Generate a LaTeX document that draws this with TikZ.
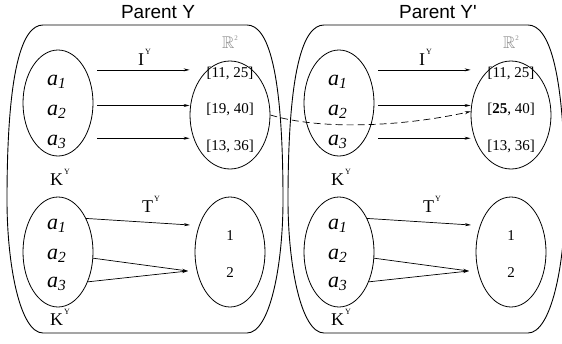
\documentclass[tikz,border=0pt]{standalone}
\usepackage{amssymb}
\usepackage{fontspec}
\setmainfont{Liberation Serif}
\setsansfont{Liberation Sans}
\usetikzlibrary{shapes.geometric, arrows.meta}
\definecolor{setgray}{gray}{0.55}
\newcommand{\tY}{\kern1pt\raisebox{11pt}{\fontsize{8}{8}\selectfont Y}}
\newcommand{\Rsq}{\textcolor{setgray}{$\mathbb{R}$\raisebox{8pt}{\fontsize{7}{7}\selectfont 2}}}

\begin{document}
\begin{tikzpicture}[x=1pt, y=-1pt,
  cont/.style={line width=0.9pt},
  set/.style={draw, ellipse, line width=0.8pt, inner sep=0pt},
  arr/.style={line width=0.7pt, -{Stealth[length=6pt,width=3pt]}},
  elem/.style={anchor=base west, inner sep=0pt, font=\fontsize{22}{22}\selectfont\itshape},
  val/.style={anchor=base, inner sep=0pt, font=\fontsize{15}{15}\selectfont},
  map/.style={anchor=base west, inner sep=0pt, font=\fontsize{18}{18}\selectfont},
  head/.style={anchor=base, inner sep=0pt, font=\sffamily\fontsize{19}{19}\selectfont}]
\useasboundingbox (0,0) rectangle (562,343);
% parent Y
\draw[cont] (43,25) -- (247,25) .. controls (268,25) and (283,70) .. (283,200)
  .. controls (283,265) and (270,333) .. (247,333) -- (43,333)
  .. controls (20,333) and (7,265) .. (7,200) .. controls (7,70) and (22,25) .. (43,25) -- cycle;
\node[head] (Lt) at (158,18) {Parent Y};
\node[set, minimum width=70pt, minimum height=106pt] (LA) at (58,103) {};
\node[set, minimum width=80pt, minimum height=108pt] (LB) at (230,115) {};
\node[set, minimum width=70pt, minimum height=110pt] (LC) at (58,252) {};
\node[set, minimum width=70pt, minimum height=110pt] (LD) at (230,252) {};
\node[elem] (La1) at (47,85) {a\textsubscript{\itshape 1}};
\node[elem] (La2) at (47,115) {a\textsubscript{\itshape 2}};
\node[elem] (La3) at (47,145) {a\textsubscript{\itshape 3}};
\node[val] (Lv1) at (230,77) {[11, 25]};
\node[val] (Lv2) at (230,113) {[19, 40]};
\node[val] (Lv3) at (230,150) {[13, 36]};
\node[val, anchor=base west, font=\fontsize{17}{17}\selectfont] (LR) at (222,48) {\Rsq};
\node[map] (LI) at (138,65) {I\tY};
\node[map] (LK1) at (50,185) {K\tY};
\node[elem] (Lb1) at (47,229) {a\textsubscript{\itshape 1}};
\node[elem] (Lb2) at (47,259) {a\textsubscript{\itshape 2}};
\node[elem] (Lb3) at (47,287) {a\textsubscript{\itshape 3}};
\node[val] (Ln1) at (230,240) {1};
\node[val] (Ln2) at (230,277) {2};
\node[map] (LT) at (142,212) {T\tY};
\node[map] (LK2) at (50,325) {K\tY};
\draw[arr, shorten <=4pt] (LA.east |- LA.50) -- (LB.west |- LA.50);
\draw[arr, shorten <=4pt] (LA.east |- LA.-4) -- (LB.west |- LA.-4);
\draw[arr, shorten <=4pt] (LA.east |- LA.-53) -- (LB.west |- LA.-53);
\coordinate (Lp1) at (190,225);
\coordinate (Lp2) at (188,271);
\draw[arr] (LC.50) -- (Lp1);
\draw[arr] (LC.-10) -- (Lp2);
\draw[arr] (LC.-45) -- (Lp2);
% parent Y'
\draw[cont] (324,25) -- (528,25) .. controls (549,25) and (565,70) .. (565,200)
  .. controls (565,265) and (551,333) .. (528,333) -- (324,333)
  .. controls (301,333) and (288,265) .. (288,200) .. controls (288,70) and (303,25) .. (324,25) -- cycle;
\node[head] (Rt) at (438,18) {Parent Y\textquotesingle};
\node[set, minimum width=70pt, minimum height=106pt] (RA) at (339,103) {};
\node[set, minimum width=80pt, minimum height=108pt] (RB) at (511,115) {};
\node[set, minimum width=70pt, minimum height=110pt] (RC) at (339,252) {};
\node[set, minimum width=70pt, minimum height=110pt] (RD) at (511,252) {};
\node[elem] (Ra1) at (328,85) {a\textsubscript{\itshape 1}};
\node[elem] (Ra2) at (328,115) {a\textsubscript{\itshape 2}};
\node[elem] (Ra3) at (328,145) {a\textsubscript{\itshape 3}};
\node[val] (Rv1) at (511,77) {[11, 25]};
\node[val] (Rv2) at (511,113) {[\textbf{25}, 40]};
\node[val] (Rv3) at (511,150) {[13, 36]};
\node[val, anchor=base west, font=\fontsize{17}{17}\selectfont] (RR) at (503,48) {\Rsq};
\node[map] (RI) at (419,65) {I\tY};
\node[map] (RK1) at (331,185) {K\tY};
\node[elem] (Rb1) at (328,229) {a\textsubscript{\itshape 1}};
\node[elem] (Rb2) at (328,259) {a\textsubscript{\itshape 2}};
\node[elem] (Rb3) at (328,287) {a\textsubscript{\itshape 3}};
\node[val] (Rn1) at (511,240) {1};
\node[val] (Rn2) at (511,277) {2};
\node[map] (RT) at (423,212) {T\tY};
\node[map] (RK2) at (331,325) {K\tY};
\draw[arr, shorten <=4pt] (RA.east |- RA.50) -- (RB.west |- RA.50);
\draw[arr, shorten <=4pt] (RA.east |- RA.-4) -- (RB.west |- RA.-4);
\draw[arr, shorten <=4pt] (RA.east |- RA.-53) -- (RB.west |- RA.-53);
\coordinate (Rp1) at (471,225);
\coordinate (Rp2) at (469,271);
\draw[arr] (RC.50) -- (Rp1);
\draw[arr] (RC.-10) -- (Rp2);
\draw[arr] (RC.-45) -- (Rp2);
% changed value
\draw[arr, dash pattern=on 7pt off 4pt] (LB.east) .. controls (320,130) and (400,127) .. (RB.175);
\end{tikzpicture}
\end{document}
